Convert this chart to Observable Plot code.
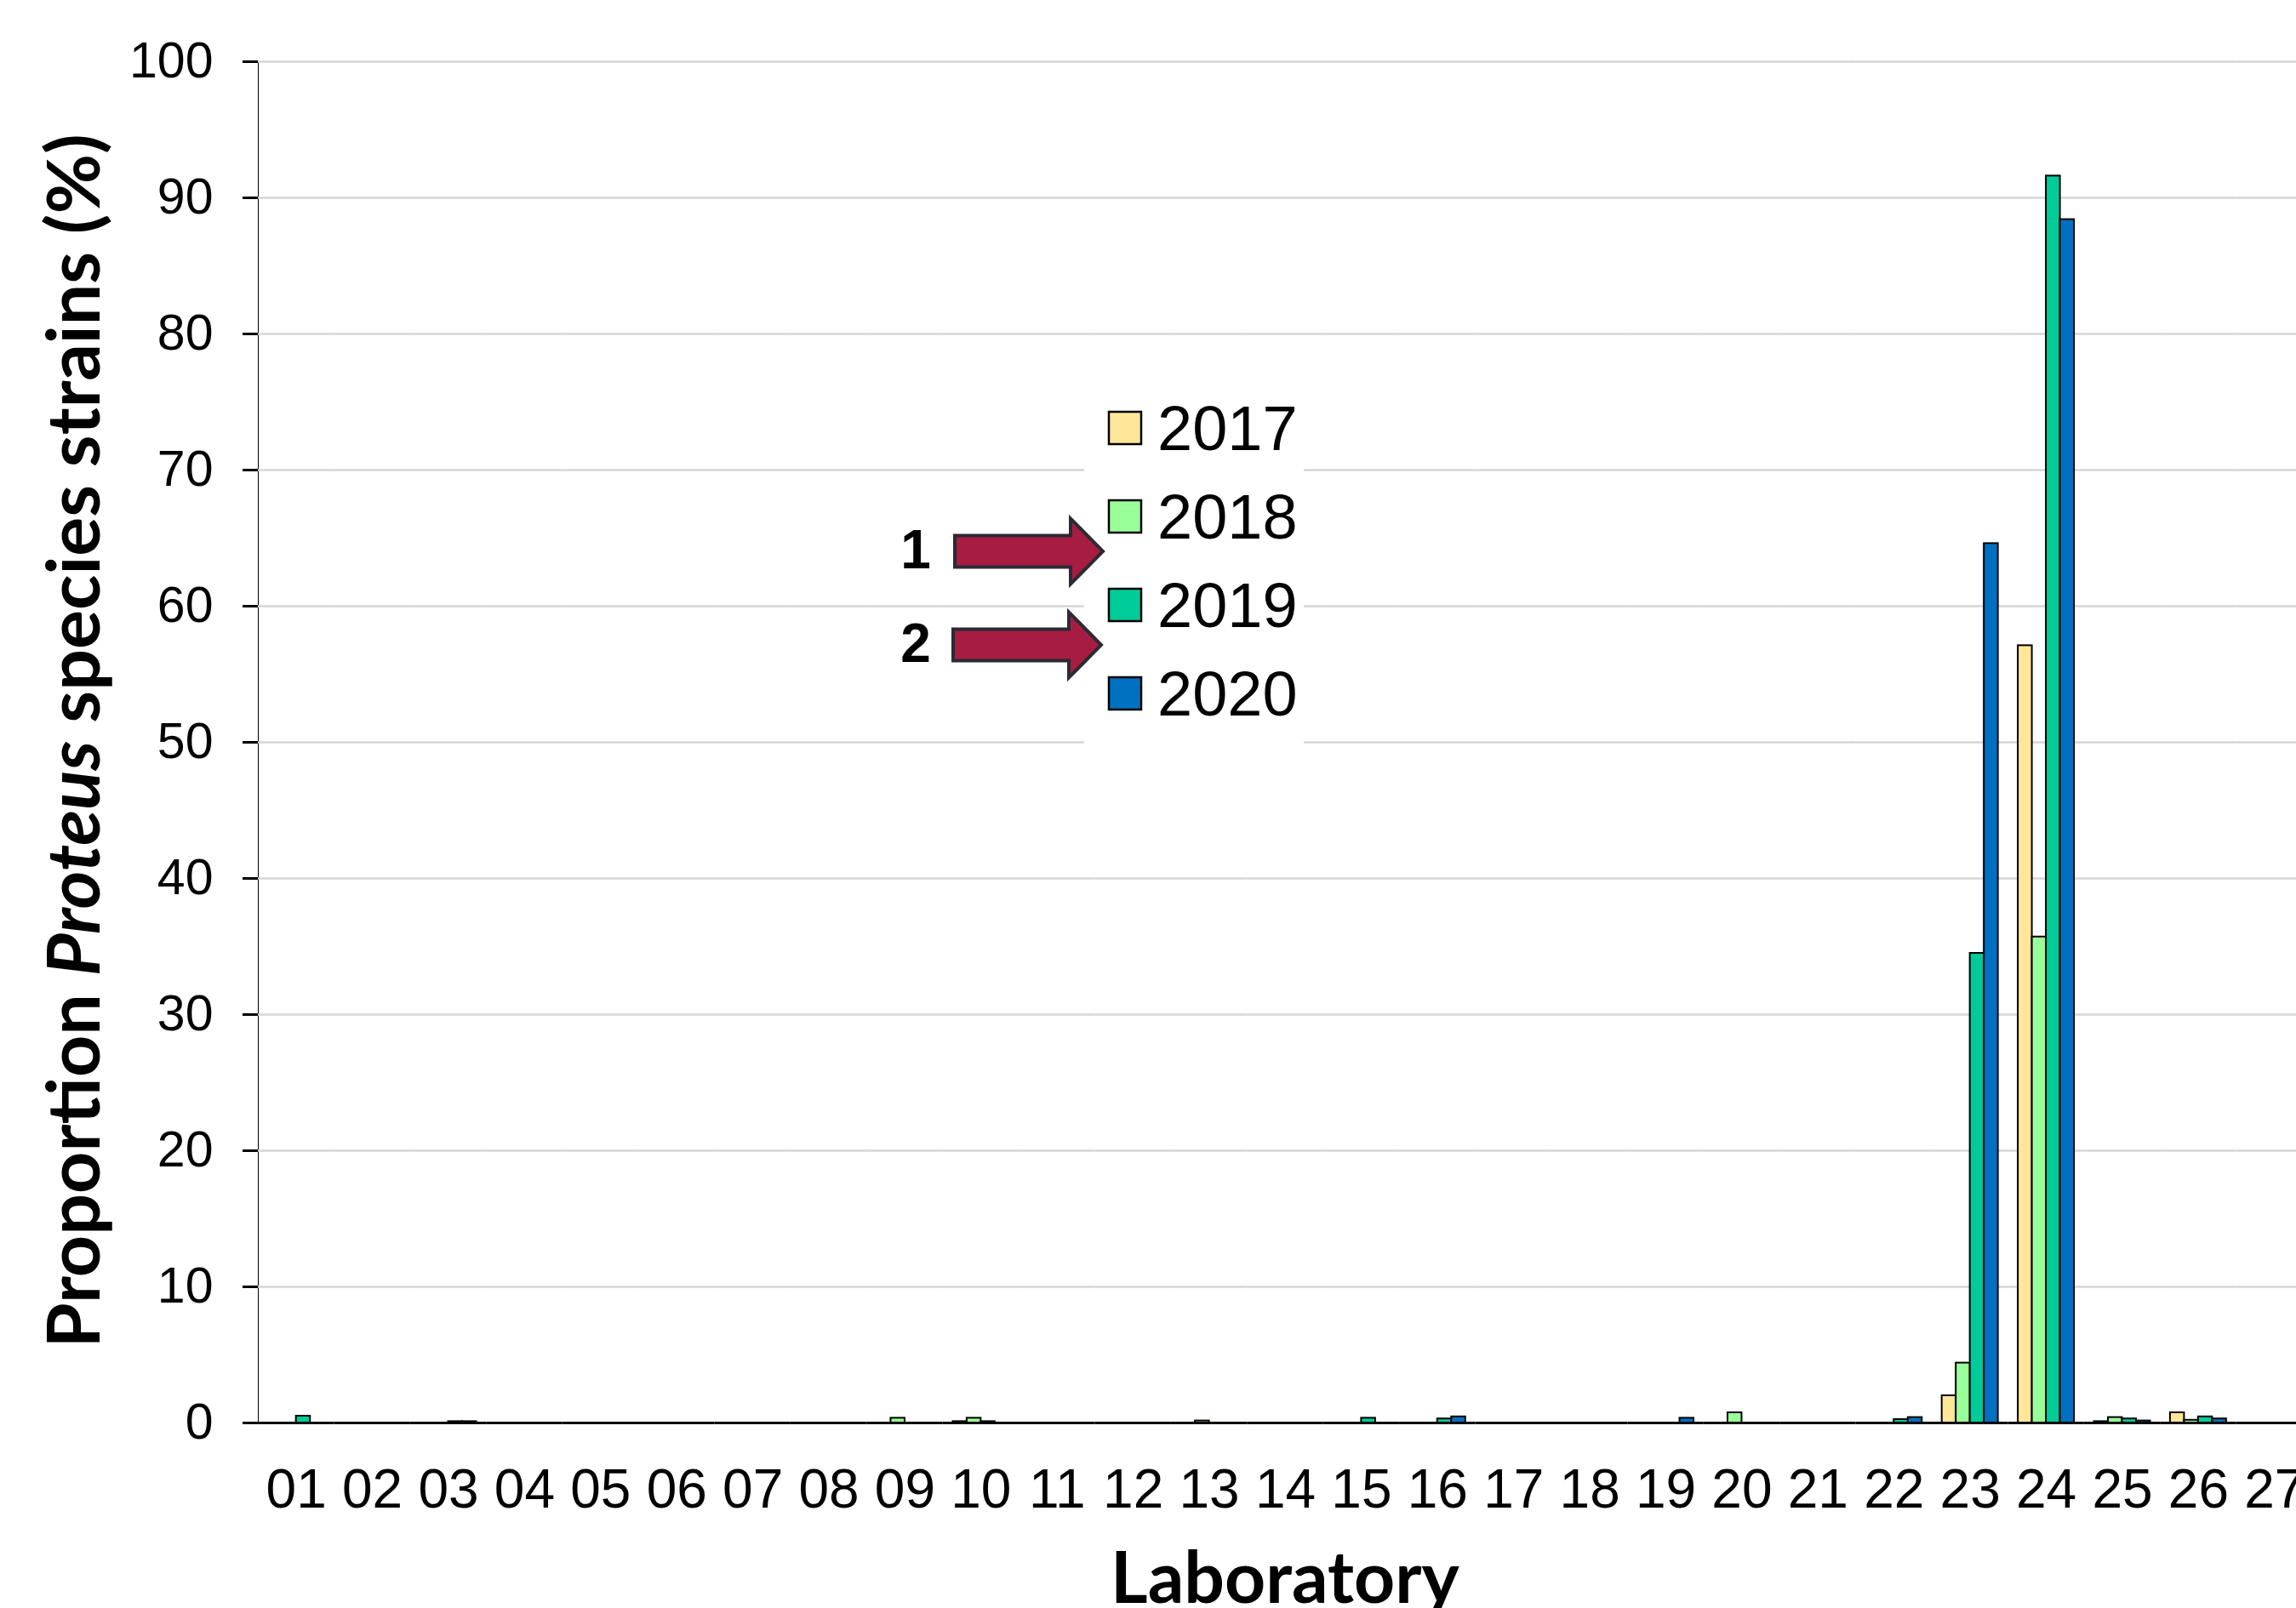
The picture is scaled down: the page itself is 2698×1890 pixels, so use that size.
<!DOCTYPE html>
<html><head><meta charset="utf-8">
<script src="https://cdn.jsdelivr.net/npm/d3@7"></script>
<script src="https://cdn.jsdelivr.net/npm/@observablehq/plot@0.6"></script>
<style>
html,body{margin:0;padding:0;background:#fff;overflow:hidden;}
#wrap{position:relative;width:2698px;height:1890px;overflow:hidden;background:#fff;}
#wrap svg.overlay{position:absolute;left:0;top:0;}
</style></head><body><div id="wrap"></div>
<script>
// ---- data ----
const labs = ["01","02","03","04","05","06","07","08","09","10","11","12","13","14","15","16","17","18","19","20","21","22","23","24","25","26","27"];
const years = ["2017","2018","2019","2020"];
const colors = ["#FFE699","#99FF99","#00CC99","#0070C0"];
//                 01   02   03   04 05 06 07 08  09    10    11 12  13   14  15    16    17 18  19    20    21  22    23    24    25    26   27
const v2017 = [    0,   0,   0,   0, 0, 0, 0, 0,  0,    0.1,  0, 0, 0,    0, 0,    0,    0, 0,  0,    0,    0,  0,    2.0,  57.1, 0.1,  0.75, 0];
const v2018 = [    0,   0,   0,   0, 0, 0, 0, 0,  0.35, 0.35, 0, 0, 0.15, 0, 0,    0,    0, 0,  0,    0.75, 0,  0,    4.4,  35.7, 0.4,  0.2,  0];
const v2019 = [    0.5, 0,   0.1, 0, 0, 0, 0, 0,  0,    0.1,  0, 0, 0,    0, 0.35, 0.3,  0, 0,  0,    0,    0,  0.25, 34.5, 91.6, 0.3,  0.45, 0];
const v2020 = [    0,   0,   0.1, 0, 0, 0, 0, 0,  0,    0,    0, 0, 0,    0, 0,    0.45, 0, 0,  0.35, 0,    0,  0.4,  64.6, 88.4, 0.15, 0.3,  0];
const yTicks = [0,10,20,30,40,50,60,70,80,90,100];
const yTitle = ["Proportion ", "Proteus", " species strains (%)"];
const xTitle = "Laboratory";
const arrowLabels = ["1","2"];

const series = [v2017, v2018, v2019, v2020];
const rows = labs.flatMap((lab, i) => years.map((year, j) => ({lab, year, value: series[j][i]})));

const font = "'Liberation Sans', Arial, sans-serif";
const chart = Plot.plot({
  width: 2717, height: 1890,
  marginLeft: 303, marginRight: 0, marginTop: 72, marginBottom: 218,
  style: {fontFamily: font, fontSize: "64px", color: "#000", background: "transparent",
          maxWidth: "none", position: "absolute", left: "0px", top: "0px"},
  fx: {domain: labs, paddingInner: 0, paddingOuter: 0, round: false, axis: "bottom", tickSize: 0, tickPadding: 54, label: null},
  x: {domain: years, axis: null, paddingInner: 0, paddingOuter: 0.71, round: false},
  y: {domain: [0, 100], ticks: yTicks, tickSize: 18, tickPadding: 35, line: true, label: null},
  color: {domain: years, range: colors},
  marks: [
    Plot.ruleY(yTicks.filter(t => t > 0), {stroke: "#d6d6d6", strokeWidth: 2.5}),
    Plot.barY(rows, {fx: "lab", x: "year", y: "value", fill: "year", stroke: "#000", strokeWidth: 2}),
    Plot.ruleY([0], {stroke: "#000", strokeWidth: 3})
  ]
});
const wrap = document.getElementById("wrap");
wrap.appendChild(chart);

// y-axis styling: thicker line/ticks, slightly smaller labels
d3.select(chart).selectAll('g[aria-label^="y-axis"] path, g[aria-label^="y-axis"] line').style("stroke-width", "3px");
d3.select(chart).selectAll('g[aria-label^="y-axis"] text').style("font-size", "59px");

// ---- overlay: titles, legend, arrows ----
const ov = d3.select(wrap).append("svg").attr("class", "overlay")
  .attr("width", 2698).attr("height", 1890).attr("viewBox", "0 0 2698 1890");

// y title
const yt = ov.append("text")
  .attr("transform", "translate(117,871) rotate(-90)")
  .attr("text-anchor", "middle")
  .attr("font-family", "Lato, 'Open Sans', sans-serif")
  .attr("font-weight", 700).attr("font-size", 86).attr("fill", "#000");
yt.append("tspan").text(yTitle[0]);
yt.append("tspan").attr("font-style", "italic").text(yTitle[1]);
yt.append("tspan").text(yTitle[2]);

// x title
ov.append("text").attr("x", 1510).attr("y", 1884).attr("text-anchor", "middle")
  .attr("font-family", "Lato, 'Open Sans', sans-serif")
  .attr("font-weight", 700).attr("font-size", 84).attr("fill", "#000").text(xTitle);

// legend
ov.append("rect").attr("x", 1274).attr("y", 440).attr("width", 258).attr("height", 450).attr("fill", "#fff");
years.forEach((yr, i) => {
  const base = 529 + i * 104;
  ov.append("rect").attr("x", 1303).attr("y", base - 45).attr("width", 38).attr("height", 38)
    .attr("fill", colors[i]).attr("stroke", "#000").attr("stroke-width", 2.5);
  ov.append("text").attr("x", 1360).attr("y", base).attr("font-family", font)
    .attr("font-size", 74).attr("fill", "#000").text(yr);
});

// arrows
[[0, 648, 668], [-2, 758, 778]].forEach(([dx, cy, base], i) => {
  const x0 = 1122 + dx, xh = 1258 + dx, xt = 1296 + dx;
  ov.append("path")
    .attr("d", `M${x0},${cy-18.5}L${xh},${cy-18.5}L${xh},${cy-38.5}L${xt},${cy}L${xh},${cy+38.5}L${xh},${cy+18.5}L${x0},${cy+18.5}Z`)
    .attr("fill", "#A71C41").attr("stroke", "#2B2A35").attr("stroke-width", 4).attr("stroke-linejoin", "miter");
  ov.append("text").attr("x", 1076).attr("y", base).attr("text-anchor", "middle")
    .attr("font-family", font).attr("font-weight", 700).attr("font-size", 64).attr("fill", "#000")
    .text(arrowLabels[i]);
});
</script></body></html>
